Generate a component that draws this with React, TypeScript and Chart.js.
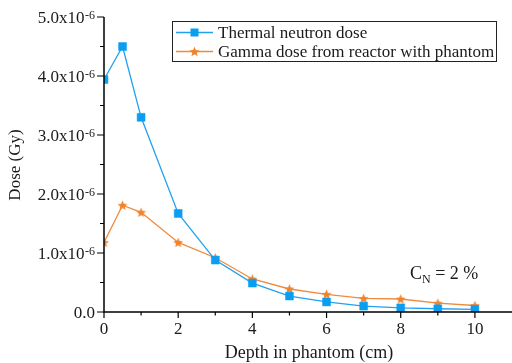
import React, { useEffect, useRef } from 'react';
import { Chart, registerables } from 'chart.js';

Chart.register(...registerables);

// Depth in phantom (cm)
const depth = [0, 0.5, 1, 2, 3, 4, 5, 6, 7, 8, 9, 10];
// Dose (Gy)
const thermalDose = [3.94e-6, 4.50e-6, 3.30e-6, 1.67e-6, 0.88e-6, 0.49e-6, 0.27e-6, 0.17e-6, 0.10e-6, 0.07e-6, 0.055e-6, 0.045e-6];
const gammaDose = [1.18e-6, 1.81e-6, 1.69e-6, 1.18e-6, 0.92e-6, 0.56e-6, 0.39e-6, 0.30e-6, 0.23e-6, 0.22e-6, 0.15e-6, 0.11e-6];
const seriesNames = ['Thermal neutron dose', 'Gamma dose from reactor with phantom'];
const xMajorTicks = [0, 2, 4, 6, 8, 10];
const xMinorTicks = [1, 3, 5, 7, 9];
const yMajorTicks = [0, 1e-6, 2e-6, 3e-6, 4e-6, 5e-6];
const yMinorTicks = [0.5e-6, 1.5e-6, 2.5e-6, 3.5e-6, 4.5e-6];
const yTickMantissa = ['0.0', '1.0x10', '2.0x10', '3.0x10', '4.0x10', '5.0x10'];
const yTickExponent = ['', '-6', '-6', '-6', '-6', '-6'];
const xTitle = 'Depth in phantom (cm)';
const yTitle = 'Dose (Gy)';
const annotationMain = 'C';
const annotationSub = 'N';
const annotationRest = ' = 2 %';

const BLUE_LINE = '#22a0f0';
const BLUE_MARK = '#0a9ef2';
const ORANGE_LINE = '#ee8a3e';
const ORANGE_MARK = '#f0842c';
const FONT = '"Liberation Serif", "Times New Roman", serif';
const TEXT = '#1a1a1a';

function makeStar(color: string, r: number): HTMLCanvasElement {
  const size = Math.ceil(r * 2 + 2);
  const c = document.createElement('canvas');
  c.width = size;
  c.height = size;
  const ctx = c.getContext('2d')!;
  const cx = size / 2;
  const cy = size / 2 + 0.5;
  const inner = r * 0.45;
  ctx.beginPath();
  for (let i = 0; i < 10; i++) {
    const rad = i % 2 === 0 ? r : inner;
    const a = -Math.PI / 2 + (i * Math.PI) / 5;
    const px = cx + rad * Math.cos(a);
    const py = cy + rad * Math.sin(a);
    if (i === 0) ctx.moveTo(px, py);
    else ctx.lineTo(px, py);
  }
  ctx.closePath();
  ctx.fillStyle = color;
  ctx.fill();
  return c;
}

function drawSquare(ctx: CanvasRenderingContext2D, x: number, y: number, color: string) {
  ctx.fillStyle = color;
  ctx.fillRect(x - 4, y - 4, 8, 8);
}

export default function App() {
  const ref = useRef<HTMLCanvasElement | null>(null);

  useEffect(() => {
    document.body.style.margin = '0';
    const canvas = ref.current!;
    const star = makeStar(ORANGE_MARK, 5.2);

    const axesPlugin = {
      id: 'customAxes',
      afterDatasetsDraw(chart: any) {
        const ctx: CanvasRenderingContext2D = chart.ctx;
        const xs = chart.scales.x;
        const ys = chart.scales.y;
        const left = xs.getPixelForValue(0);
        const bottom = ys.getPixelForValue(0);
        const top = ys.getPixelForValue(5e-6);
        const right = chart.chartArea.right;
        ctx.save();
        ctx.strokeStyle = '#000';
        ctx.lineWidth = 1.5;
        ctx.beginPath();
        ctx.moveTo(left, top);
        ctx.lineTo(left, bottom);
        ctx.lineTo(right, bottom);
        ctx.stroke();
        ctx.lineWidth = 1.2;
        ctx.beginPath();
        xMajorTicks.forEach((v) => {
          const px = xs.getPixelForValue(v);
          ctx.moveTo(px, bottom);
          ctx.lineTo(px, bottom + 6);
        });
        xMinorTicks.forEach((v) => {
          const px = xs.getPixelForValue(v);
          ctx.moveTo(px, bottom);
          ctx.lineTo(px, bottom + 3.5);
        });
        yMajorTicks.forEach((v) => {
          const py = ys.getPixelForValue(v);
          ctx.moveTo(left, py);
          ctx.lineTo(left - 7, py);
        });
        yMinorTicks.forEach((v) => {
          const py = ys.getPixelForValue(v);
          ctx.moveTo(left, py);
          ctx.lineTo(left - 4, py);
        });
        ctx.stroke();

        ctx.fillStyle = TEXT;
        ctx.font = `17px ${FONT}`;
        ctx.textAlign = 'center';
        ctx.textBaseline = 'alphabetic';
        xMajorTicks.forEach((v) => {
          ctx.fillText(String(v), xs.getPixelForValue(v), bottom + 21.5);
        });

        yMajorTicks.forEach((v, i) => {
          const py = ys.getPixelForValue(v);
          const rightEdge = left - 9;
          ctx.font = `12px ${FONT}`;
          const supW = yTickExponent[i] ? ctx.measureText(yTickExponent[i]).width + 0.5 : 0;
          ctx.textAlign = 'right';
          if (yTickExponent[i]) ctx.fillText(yTickExponent[i], rightEdge, py + 2);
          ctx.font = `17px ${FONT}`;
          ctx.fillText(yTickMantissa[i], rightEdge - supW, py + 6);
        });

        ctx.font = `18px ${FONT}`;
        ctx.textAlign = 'center';
        ctx.fillText(xTitle, 309, 358);

        ctx.save();
        ctx.translate(16, 165);
        ctx.rotate(-Math.PI / 2);
        ctx.font = `17px ${FONT}`;
        ctx.textBaseline = 'middle';
        ctx.fillText(yTitle, 0, 0);
        ctx.restore();
        ctx.restore();
      },
      afterDraw(chart: any) {
        const ctx: CanvasRenderingContext2D = chart.ctx;
        ctx.save();
        // legend box
        ctx.strokeStyle = '#222';
        ctx.lineWidth = 1;
        ctx.strokeRect(172.5, 21.5, 324, 40);
        const rows = [
          { y: 32.5, color: BLUE_LINE, mark: 'sq' },
          { y: 51.5, color: ORANGE_LINE, mark: 'star' },
        ];
        rows.forEach((r, i) => {
          ctx.strokeStyle = r.color;
          ctx.lineWidth = 1.5;
          ctx.beginPath();
          ctx.moveTo(176, r.y);
          ctx.lineTo(213, r.y);
          ctx.stroke();
          if (r.mark === 'sq') drawSquare(ctx, 194.5, r.y, BLUE_MARK);
          else ctx.drawImage(star, 194.5 - star.width / 2, r.y - star.height / 2);
          ctx.fillStyle = TEXT;
          ctx.font = `17px ${FONT}`;
          ctx.textAlign = 'left';
          ctx.textBaseline = 'alphabetic';
          ctx.fillText(seriesNames[i], 218, r.y + 5.5);
        });

        // annotation
        ctx.fillStyle = TEXT;
        ctx.textAlign = 'left';
        ctx.font = `18px ${FONT}`;
        let ax = 410;
        ctx.fillText(annotationMain, ax, 279);
        ax += ctx.measureText(annotationMain).width;
        ctx.font = `12px ${FONT}`;
        ctx.fillText(annotationSub, ax, 283);
        ax += ctx.measureText(annotationSub).width;
        ctx.font = `18px ${FONT}`;
        ctx.fillText(annotationRest, ax, 279);
        ctx.restore();
      },
    };

    const chart = new Chart(canvas, {
      type: 'line',
      data: {
        datasets: [
          {
            label: seriesNames[0],
            data: depth.map((d, i) => ({ x: d, y: thermalDose[i] })),
            borderColor: BLUE_LINE,
            backgroundColor: BLUE_MARK,
            borderWidth: 1.3,
            pointStyle: 'rect',
            pointRadius: 5.6,
            pointBorderWidth: 0.5,
            pointBorderColor: BLUE_MARK,
            pointBackgroundColor: BLUE_MARK,
            tension: 0,
          } as any,
          {
            label: seriesNames[1],
            data: depth.map((d, i) => ({ x: d, y: gammaDose[i] })),
            borderColor: ORANGE_LINE,
            backgroundColor: ORANGE_MARK,
            borderWidth: 1.3,
            pointStyle: star,
            pointRadius: 5,
            tension: 0,
          } as any,
        ],
      },
      options: {
        responsive: false,
        animation: false,
        layout: { autoPadding: false, padding: { left: 104, right: 0, top: 17, bottom: 51 } },
        plugins: { legend: { display: false }, tooltip: { enabled: false } },
        scales: {
          x: { type: 'linear', min: 0, max: 11, display: false },
          y: { type: 'linear', min: 0, max: 5e-6, display: false },
        },
      },
      plugins: [axesPlugin],
    });
    return () => chart.destroy();
  }, []);

  return (
    <div style={{ width: 512, height: 363 }}>
      <canvas ref={ref} width={512} height={363} style={{ display: 'block' }} />
    </div>
  );
}
